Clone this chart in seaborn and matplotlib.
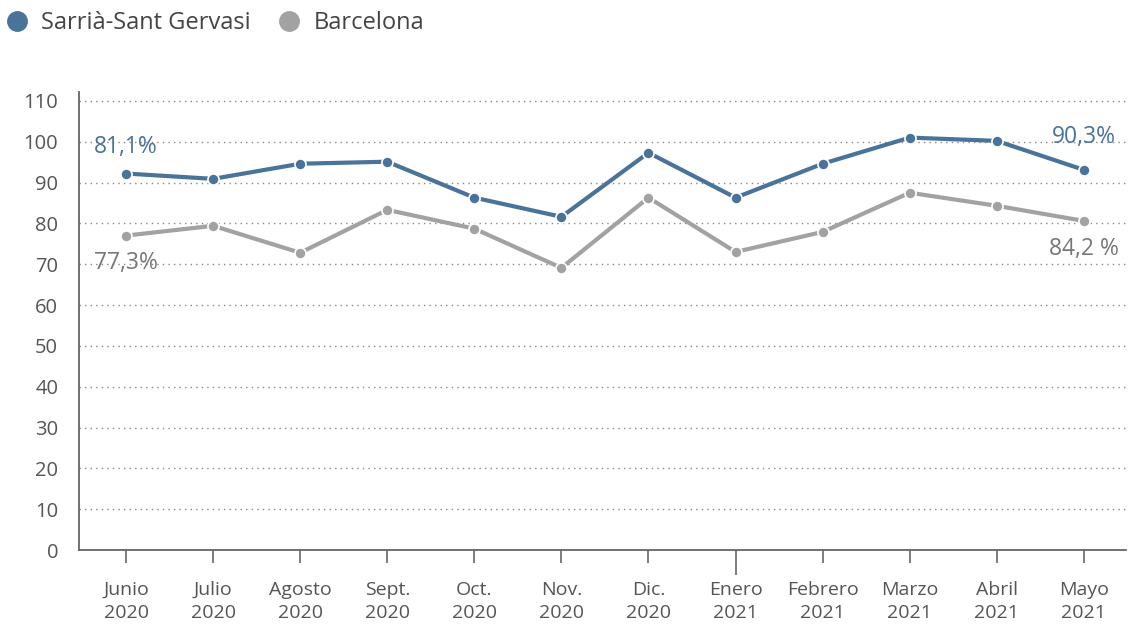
import numpy as np
import pandas as pd
import seaborn as sns
import matplotlib.pyplot as plt
from matplotlib.lines import Line2D

# data
months = ['Junio\n2020', 'Julio\n2020', 'Agosto\n2020', 'Sept.\n2020', 'Oct.\n2020', 'Nov.\n2020',
          'Dic.\n2020', 'Enero\n2021', 'Febrero\n2021', 'Marzo\n2021', 'Abril\n2021', 'Mayo\n2021']
sarria = [92.2, 90.9, 94.6, 95.1, 86.3, 81.6, 97.3, 86.3, 94.6, 101.0, 100.2, 93.1]
barcelona = [77.0, 79.4, 72.8, 83.3, 78.7, 69.1, 86.3, 73.0, 77.9, 87.5, 84.3, 80.6]
series_names = ['Sarrià-Sant Gervasi', 'Barcelona']
start_labels = ['81,1%', '77,3%']
end_labels = ['90,3%', '84,2 %']

blue = '#4a7399'
grey = '#a2a2a2'
palette = {series_names[0]: blue, series_names[1]: grey}

df = pd.DataFrame({
    'idx': list(range(len(months))) * 2,
    'value': sarria + barcelona,
    'serie': [series_names[0]] * len(months) + [series_names[1]] * len(months),
})

sns.set_style('white')
plt.rcParams['font.family'] = ['Open Sans', 'DejaVu Sans']

fig = plt.figure(figsize=(11.29, 6.25), dpi=100)
ax = fig.add_axes([0.070, 0.12, 0.927, 0.733])

sns.lineplot(data=df, x='idx', y='value', hue='serie', palette=palette, marker='o',
             markersize=8, markeredgecolor='white', markeredgewidth=1.2,
             linewidth=3, legend=False, ax=ax)

ax.set_xlim(-0.54, 11.48)
ax.set_ylim(0, 112.2)
ax.set_yticks(range(0, 111, 10))
ax.set_xticks(range(len(months)))
ax.set_xticklabels(months, linespacing=1.4)
ax.set_xlabel('')
ax.set_ylabel('')
ax.tick_params(axis='y', left=False, length=0, pad=15, labelsize=14.5, labelcolor='#555555')
ax.tick_params(axis='x', bottom=True, direction='out', length=9, width=1.2, color='#666666',
               pad=13, labelsize=14, labelcolor='#555555')
# longer tick at year change
ax.get_xticklines()[2 * 7].set_markersize(18)

for y in range(10, 111, 10):
    ax.axhline(y, color='#888888', linestyle=(0, (1, 3)), linewidth=1, zorder=0)

for s in ['top', 'right']:
    ax.spines[s].set_visible(False)
for s in ['left', 'bottom']:
    ax.spines[s].set_color('#666666')
    ax.spines[s].set_linewidth(1.3)

# start/end value labels
ax.text(0, sarria[0] + 6.5, start_labels[0], color=blue, fontsize=16.5, ha='center', va='center')
ax.text(0, barcelona[0] - 6.6, start_labels[1], color='#777777', fontsize=16.5, ha='center', va='center')
ax.text(11, sarria[-1] + 8, end_labels[0], color=blue, fontsize=16.5, ha='center', va='center')
ax.text(11, barcelona[-1] - 6.8, end_labels[1], color='#777777', fontsize=16.5, ha='center', va='center')

handles = [Line2D([], [], marker='o', linestyle='', markersize=14, color=palette[n]) for n in series_names]
fig.legend(handles, series_names, loc='upper left', bbox_to_anchor=(-0.025, 1.016), ncol=2,
           frameon=False, fontsize=17, handletextpad=0.05, columnspacing=0.6,
           labelcolor='#444444')

plt.savefig('out.png', dpi=100)
